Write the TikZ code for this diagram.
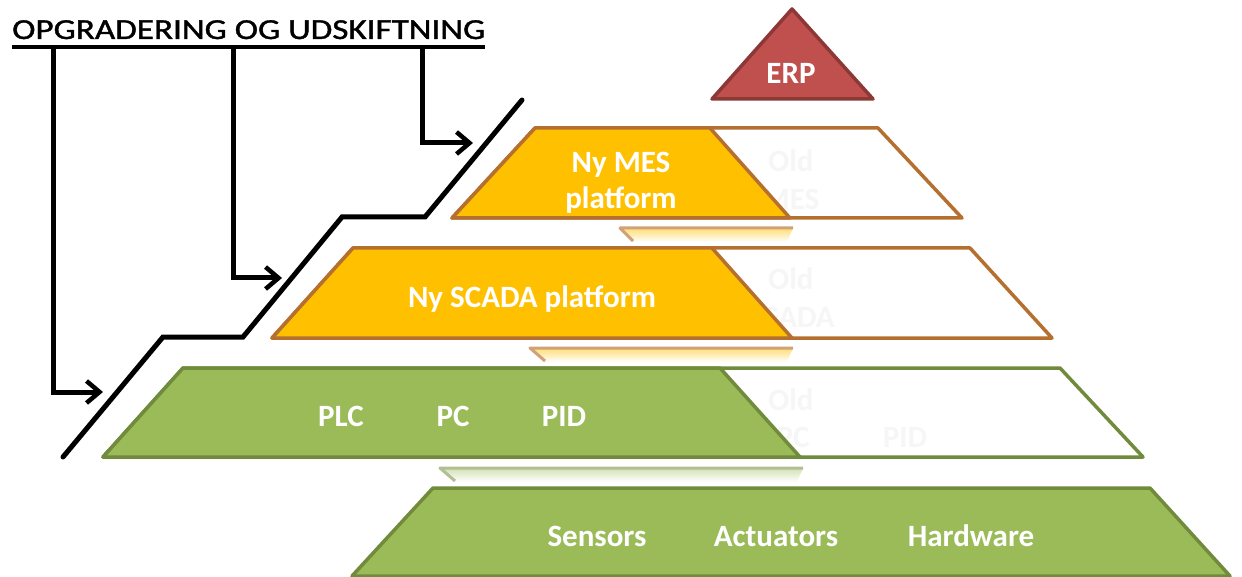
\documentclass[tikz,border=0pt]{standalone}
\usepackage{fontspec}
\setmainfont{Carlito}
\newfontfamily\titlefont[FakeBold=1.2]{Carlito}
\usetikzlibrary{arrows.meta}
\definecolor{mesyellow}{HTML}{FFC000}
\definecolor{mesborder}{HTML}{B5702F}
\definecolor{plcgreen}{HTML}{9BBB59}
\definecolor{plcborder}{HTML}{718B3C}
\definecolor{erpred}{HTML}{C0504D}
\definecolor{erpborder}{HTML}{8C3836}
\definecolor{ghost}{gray}{0.965}
\begin{document}
\begin{tikzpicture}[x=1pt,y=-1pt,
  lbl/.style={font=\fontsize{31}{37}\selectfont\bfseries, text=white, inner sep=0pt, anchor=base},
  ghosttxt/.style={lbl, text=ghost},
  layerline/.style={line width=3.5pt, line join=round},
  conn/.style={line width=5pt, draw=black},
  arr/.style={conn, -{Straight Barb[length=13pt,width=22pt,line width=4.5pt]}},
  refl/.style={line width=3pt, line join=round},
]
\useasboundingbox (0,0) rectangle (1242,577);

% title
\node[anchor=base west, inner sep=0pt, font=\titlefont\fontsize{29}{31}\selectfont] (title) at (12,39)
  {\resizebox{473pt}{\height}{OPGRADERING OG UDSKIFTNING}};
\coordinate (ul) at (12,47);
\coordinate (ur) at (485,47);
\draw[line width=3.2pt] (ul) -- (ur);

% ERP
\draw[layerline, draw=erpborder, fill=erpred] (792,9) -- (873,99) -- (712,99) -- cycle;
\node[lbl] (erp) at (791,84) {ERP};

% MES layer
\draw[layerline, draw=mesborder, fill=white] (535,128) -- (878,128) -- (962,218) -- (452,218) -- cycle;
\node[ghosttxt] (gmes1) at (791,172) {Old};
\node[ghosttxt] (gmes2) at (791,210) {MES};
\draw[layerline, draw=mesborder, fill=mesyellow] (535,128) -- (710,128) -- (790,218) -- (452,218) -- cycle;
\node[lbl] (mes1) at (621,173) {Ny MES};
\node[lbl] (mes2) at (621,209) {platform};

% reflection below MES
\shade[top color=mesyellow!55, bottom color=white] (620,228) -- (793,228) -- (787,242) -- (633,242) -- cycle;
\draw[refl, draw=mesborder!65] (633,241) -- (620,228) -- (793,228);

% SCADA layer
\draw[layerline, draw=mesborder, fill=white] (353,248) -- (970,248) -- (1052,338) -- (272,338) -- cycle;
\node[ghosttxt] (gsc1) at (791,290) {Old};
\node[ghosttxt] (gsc2) at (791,327) {SCADA};
\draw[layerline, draw=mesborder, fill=mesyellow] (353,248) -- (712,248) -- (792,338) -- (272,338) -- cycle;
\node[lbl] (scada) at (532,308) {Ny SCADA platform};

% reflection below SCADA
\shade[top color=mesyellow!55, bottom color=white] (530,348) -- (793,348) -- (787,362) -- (545,362) -- cycle;
\draw[refl, draw=mesborder!65] (545,361) -- (530,348) -- (793,348);

% PLC layer
\draw[layerline, draw=plcborder, fill=white] (183,368) -- (1060,368) -- (1143,457) -- (103,457) -- cycle;
\node[ghosttxt] (gplc1) at (791,410) {Old};
\node[ghosttxt] (gplc2) at (681,447) {PLC};
\node[ghosttxt] (gplc3) at (793,447) {PC};
\node[ghosttxt] (gplc4) at (905,447) {PID};
\draw[layerline, draw=plcborder, fill=plcgreen] (183,368) -- (720,368) -- (800,457) -- (103,457) -- cycle;
\node[lbl] (plc) at (341,426) {PLC};
\node[lbl] (pc) at (453,426) {PC};
\node[lbl] (pid) at (564,426) {PID};

% reflection below PLC
\shade[top color=plcgreen!45, bottom color=white] (440,468) -- (803,468) -- (797,482) -- (455,482) -- cycle;
\draw[refl, draw=plcborder!55] (455,481) -- (440,468) -- (803,468);

% Sensors layer
\draw[layerline, draw=plcborder, fill=plcgreen] (433,488) -- (1150,488) -- (1230,576) -- (352,576) -- cycle;
\node[lbl] (sens) at (597,546) {Sensors};
\node[lbl] (act) at (776,546) {Actuators};
\node[lbl] (hw) at (971,546) {Hardware};

% staircase
\coordinate (s0) at (63,457);
\coordinate (s1) at (163,337);
\coordinate (s2) at (243,337);
\coordinate (s3) at (342,217);
\coordinate (s4) at (425,217);
\coordinate (s5) at (522,100);
\draw[conn, line cap=round] (s0) -- (s1) -- (s2) -- (s3) -- (s4) -- (s5);

% connectors
\coordinate (u1) at (53,47);
\coordinate (u2) at (233,47);
\coordinate (u3) at (422,47);
\coordinate (a1) at (103,392);
\coordinate (a2) at (282,278);
\coordinate (a3) at (473,143);
\draw[arr] (u1) |- (a1);
\draw[arr] (u2) |- (a2);
\draw[arr] (u3) |- (a3);
\end{tikzpicture}
\end{document}
